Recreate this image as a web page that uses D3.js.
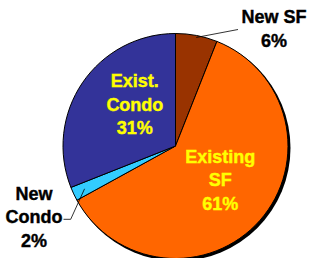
<!DOCTYPE html>
<html>
<head>
<meta charset="utf-8">
<script src="https://cdn.jsdelivr.net/npm/d3@7"></script>
<style>
  html, body { margin: 0; padding: 0; background: #fff; }
  svg text { font-family: "Liberation Sans", Arial, sans-serif; font-weight: bold; font-size: 18px; stroke-width: 0.4px; }
</style>
</head>
<body>
<div id="chart"></div>
<script>
// slice data, clockwise from 12 o'clock
var categories = ["New SF", "Existing SF", "New Condo", "Exist. Condo"];
var shares = [6, 61, 2, 31];
var labelLines = [["New SF", "6%"], ["Existing", "SF", "61%"], ["New", "Condo", "2%"], ["Exist.", "Condo", "31%"]];
var sliceColors = ["#993300", "#FF6600", "#33CCFF", "#333399"];

var width = 309, height = 258;
var cx = 175.5, cy = 146, radius = 112.5;

var svg = d3.select("#chart").append("svg")
    .attr("width", width)
    .attr("height", height);

var g = svg.append("g")
    .attr("transform", "translate(" + cx + "," + cy + ")");

var pie = d3.pie().sort(null).value(function(d) { return d; });
var arcs = pie(shares);
var arc = d3.arc().innerRadius(0).outerRadius(radius);
var labelArc = d3.arc().innerRadius(57).outerRadius(57);

// drop shadow
g.append("circle")
    .attr("cx", 2).attr("cy", 2)
    .attr("r", radius + 0.5)
    .style("fill", "#000");

g.selectAll(".slice")
    .data(arcs)
    .enter().append("path")
    .attr("class", "slice")
    .attr("d", arc)
    .style("fill", function(d, i) { return sliceColors[i]; })
    .style("stroke", "#000")
    .style("stroke-width", 1);

// inside labels (yellow) and outside labels (black)
var inside = { 1: [2, -3.7], 3: [6.5, -9.8] };
var outside = { 0: [98.5, -117.5], 2: [-141.5, 70.8] };
var lineH = 23.5;

arcs.forEach(function(d, i) {
    var p, fill;
    if (inside[i]) {
        var c = labelArc.centroid(d);
        p = [c[0] + inside[i][0], c[1] + inside[i][1]];
        fill = "#FFFF00";
    } else {
        p = outside[i];
        fill = "#000";
    }
    var lines = labelLines[i];
    var t = g.append("text")
        .attr("text-anchor", "middle")
        .style("fill", fill)
        .style("stroke", fill);
    lines.forEach(function(s, k) {
        t.append("tspan")
            .attr("x", p[0])
            .attr("y", p[1] + (k - (lines.length - 1) / 2) * lineH + 6.5)
            .text(s);
    });
});

// leader lines
var edge = d3.arc().innerRadius(radius - 2).outerRadius(radius - 2);
var e0 = edge.centroid(arcs[0]);
g.append("path")
    .attr("d", d3.line()([e0, [62.5, -116.5]]))
    .style("fill", "none").style("stroke", "#000").style("stroke-width", 0.8);

var e2 = d3.arc().innerRadius(radius - 12).outerRadius(radius - 12).centroid(arcs[2]);
g.append("path")
    .attr("d", d3.line()([e2, [-104.8, 73.3], [-112, 73.3]]))
    .style("fill", "none").style("stroke", "#000").style("stroke-width", 0.8);
</script>
</body>
</html>
